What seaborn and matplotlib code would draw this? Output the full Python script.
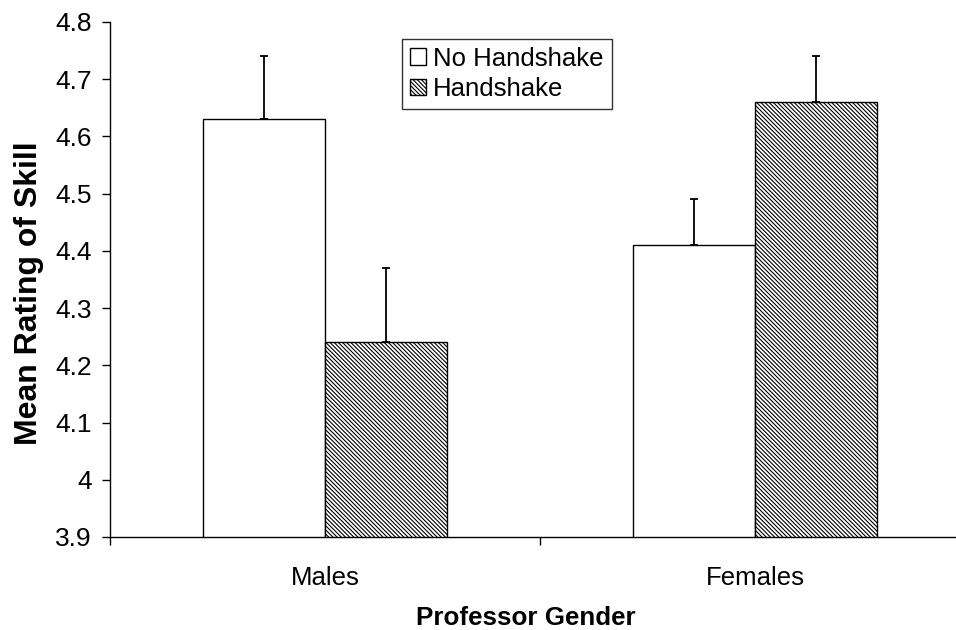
import matplotlib
matplotlib.use("Agg")
import matplotlib.pyplot as plt
import seaborn as sns
import pandas as pd
import numpy as np
from matplotlib.patches import Patch

genders = ["Males", "Females"]
conditions = ["No Handshake", "Handshake"]
no_handshake = [4.63, 4.41]
handshake = [4.24, 4.66]
no_handshake_err = [0.11, 0.08]
handshake_err = [0.13, 0.08]
yticks = [3.9, 4.0, 4.1, 4.2, 4.3, 4.4, 4.5, 4.6, 4.7, 4.8]
ytick_labels = ["3.9", "4", "4.1", "4.2", "4.3", "4.4", "4.5", "4.6", "4.7", "4.8"]

sns.set_style("white")
plt.rcParams["font.family"] = ["Liberation Sans", "DejaVu Sans"]
plt.rcParams["hatch.color"] = "#555555"
plt.rcParams["hatch.linewidth"] = 0.8
plt.rcParams["text.color"] = "black"
plt.rcParams["axes.labelcolor"] = "black"
plt.rcParams["xtick.color"] = "black"
plt.rcParams["ytick.color"] = "black"

df = pd.DataFrame({
    "Gender": genders * 2,
    "Condition": [conditions[0]] * 2 + [conditions[1]] * 2,
    "Value": no_handshake + handshake,
    "Err": no_handshake_err + handshake_err,
})

fig = plt.figure(figsize=(9.56, 6.30), dpi=100)
ax = fig.add_axes([110 / 956, 93 / 630, 846 / 956, 515 / 630])

sns.barplot(data=df, x="Gender", y="Value", hue="Condition", order=genders,
            hue_order=conditions, palette=["white", "white"], width=0.567,
            edgecolor="black", linewidth=1.0, errorbar=None, legend=False, ax=ax)

hatches = {"No Handshake": "", "Handshake": "\\" * 8}
for cont, cond in zip(ax.containers, conditions):
    sub = df[df["Condition"] == cond].set_index("Gender").loc[genders]
    xs = []
    for bar in cont:
        bar.set_hatch(hatches[cond])
        bar.set_edgecolor("black")
        xs.append(bar.get_x() + bar.get_width() / 2)
    ax.errorbar(xs, sub["Value"].values,
                yerr=[np.zeros(len(xs)), sub["Err"].values],
                fmt="none", ecolor="black", elinewidth=1.3, capsize=3,
                capthick=1.3, zorder=0.5)

ax.set_yticks(yticks)
ax.set_yticklabels(ytick_labels)
ax.set_xticks([0, 1])
ax.set_xticklabels(genders)
ax.set_xticks([-0.5, 0.5, 1.5], minor=True)
ax.set_ylim(3.9, 4.8)
ax.set_xlim(-0.5, 1.467)
ax.tick_params(axis="x", which="major", length=0, pad=21, labelsize=18.5, labelcolor="black")
ax.tick_params(axis="x", which="minor", length=6, width=1, direction="out", color="black", bottom=True)
ax.tick_params(axis="y", length=6, width=1, direction="out", color="black", labelsize=19, pad=7,
               left=True, labelcolor="black")

for side in ["top", "right"]:
    ax.spines[side].set_visible(False)
for side in ["left", "bottom"]:
    ax.spines[side].set_color("black")
    ax.spines[side].set_linewidth(1.0)

ax.set_xlabel("Professor Gender", fontsize=18.7, fontweight="bold", color="black")
ax.xaxis.set_label_coords((526 - 110) / 846, (537 - 606) / 515)
ax.set_ylabel("Mean Rating of Skill", fontsize=23, fontweight="bold", color="black")
ax.yaxis.set_label_coords((44 - 110) / 846, (537 - 293) / 515)

handles = [Patch(facecolor="white", edgecolor="black", hatch=hatches[c], label=c) for c in conditions]
leg = ax.legend(handles=handles, loc="upper left", bbox_to_anchor=((402 - 110) / 846, (537 - 39) / 515),
                fontsize=18.5, frameon=True, fancybox=False, edgecolor="black",
                handlelength=0.62, handleheight=0.62, handletextpad=0.3,
                borderpad=0.3, labelspacing=0.25, borderaxespad=0, labelcolor="black")
leg.get_frame().set_linewidth(1.0)

fig.savefig("out.png", dpi=100)
